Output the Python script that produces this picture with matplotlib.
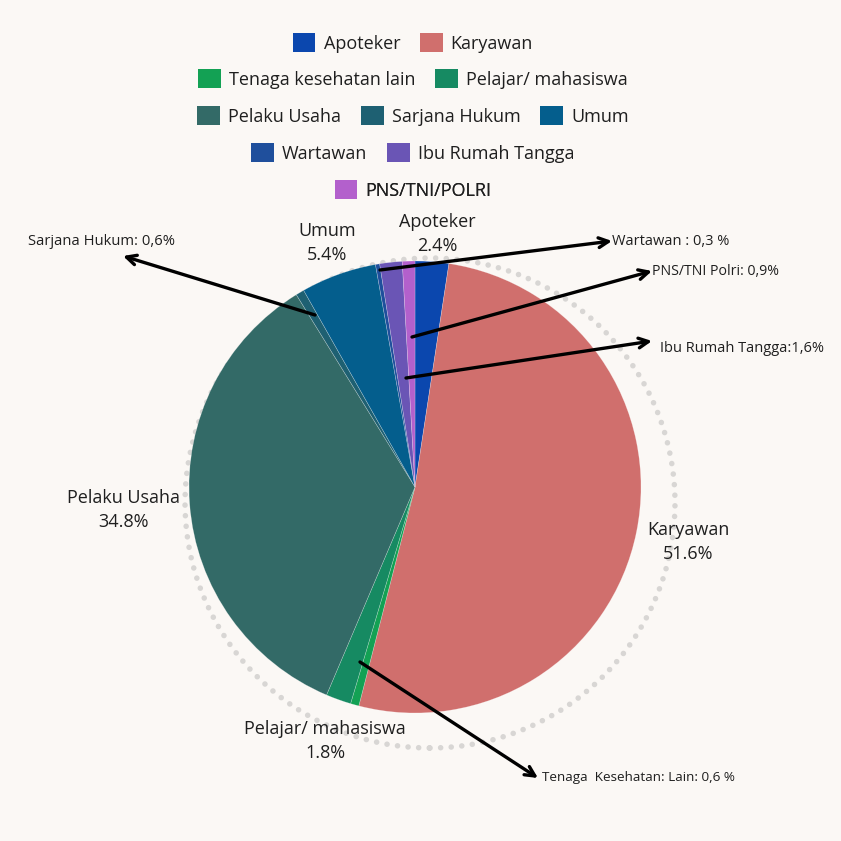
import matplotlib
matplotlib.use("Agg")
import matplotlib.pyplot as plt
from matplotlib.patches import Circle, Patch

categories = ["Apoteker", "Karyawan", "Tenaga kesehatan lain", "Pelajar/ mahasiswa",
              "Pelaku Usaha", "Sarjana Hukum", "Umum", "Wartawan", "Ibu Rumah Tangga",
              "PNS/TNI/POLRI"]
values = [2.4, 51.6, 0.6, 1.8, 34.8, 0.6, 5.4, 0.3, 1.6, 0.9]
colors = ["#0B47AE", "#D06F6D", "#13A154", "#168A62", "#336A67", "#1E6072",
          "#045E8D", "#1F4F9C", "#6A55B5", "#B360CC"]
legend_rows = [[0, 1], [2, 3], [4, 5, 6], [7, 8], [9]]

inner_labels = {"Apoteker": "Apoteker\n2.4%", "Umum": "Umum\n5.4%",
                "Pelaku Usaha": "Pelaku Usaha\n34.8%", "Karyawan": "Karyawan\n51.6%",
                "Pelajar/ mahasiswa": "Pelajar/ mahasiswa\n1.8%"}
callouts = {"Sarjana Hukum": "Sarjana Hukum: 0,6%", "Wartawan": "Wartawan : 0,3 %",
            "PNS/TNI/POLRI": "PNS/TNI Polri: 0,9%", "Ibu Rumah Tangga": "Ibu Rumah Tangga:1,6%",
            "Tenaga kesehatan lain": "Tenaga  Kesehatan: Lain: 0,6 %"}

BG = "#FBF8F5"
FONT = ["Open Sans", "DejaVu Sans"]
W = H = 841

fig = plt.figure(figsize=(8.41, 8.41), dpi=100, facecolor=BG)
ax = fig.add_axes([0, 0, 1, 1])
ax.set_xlim(0, W)
ax.set_ylim(0, H)
ax.set_aspect("equal")
ax.axis("off")
ax.set_facecolor(BG)

def Y(y):
    return H - y

# dotted ring
ring = Circle((430, Y(503)), 245, fill=False, edgecolor="#D8D6D4", lw=4.0,
              linestyle=(0, (0.01, 1.9)), zorder=1)
ring.set_capstyle("round")
ax.add_patch(ring)

ax.pie(values, colors=colors, startangle=90, counterclock=False,
       center=(415, Y(487)), radius=226, frame=True,
       wedgeprops=dict(linewidth=0.4, edgecolor=(1, 1, 1, 0.35), zorder=2))
ax.set_xlim(0, W)
ax.set_ylim(0, H)
ax.axis("off")

# inner labels
pos = {"Apoteker": (437, 234), "Umum": (327, 243), "Pelaku Usaha": (124, 510),
       "Karyawan": (688, 542), "Pelajar/ mahasiswa": (325, 741)}
for k, t in inner_labels.items():
    x, y = pos[k]
    ax.text(x, Y(y), t, ha="center", va="center", fontsize=13, family=FONT,
            color="#1f1f1f", linespacing=1.4, zorder=5)

# callouts
arrows = {"Sarjana Hukum": ((315, 315), (123, 256), (28, 241), 10.6),
          "Wartawan": ((380, 270), (612, 241), (612, 241), 10.5),
          "PNS/TNI/POLRI": ((412, 337), (652, 271), (652, 271), 10.2),
          "Ibu Rumah Tangga": ((406, 378), (652, 341), (660, 348), 10.5),
          "Tenaga kesehatan lain": ((360, 662), (538, 778), (542, 778), 9.7)}
for k, t in callouts.items():
    (x0, y0), (x1, y1), (tx, ty), fs = arrows[k]
    ax.annotate("", xy=(x1, Y(y1)), xytext=(x0, Y(y0)),
                arrowprops=dict(arrowstyle="->,head_length=0.7,head_width=0.35",
                                lw=2.4, color="black", shrinkA=0, shrinkB=0),
                zorder=6)
    ax.text(tx, Y(ty), t, ha="left", va="center", fontsize=fs, family=FONT,
            color="#1f1f1f", zorder=6)

# legend rows
row_y = [43, 79, 116, 153, 190]
for r, idxs in enumerate(legend_rows):
    handles = [Patch(facecolor=colors[i], edgecolor="none") for i in idxs]
    labels = [categories[i] for i in idxs]
    leg = ax.legend(handles, labels, loc="center", bbox_to_anchor=(413 / W, 1 - row_y[r] / H),
                    bbox_transform=fig.transFigure, ncol=len(idxs), frameon=False,
                    prop={"family": FONT, "size": 13}, handlelength=1.25, handleheight=1.25,
                    handletextpad=0.45, columnspacing=1.1, borderpad=0, labelcolor="#1f1f1f")
    ax.add_artist(leg)

fig.savefig("out.png", dpi=100, facecolor=BG)
